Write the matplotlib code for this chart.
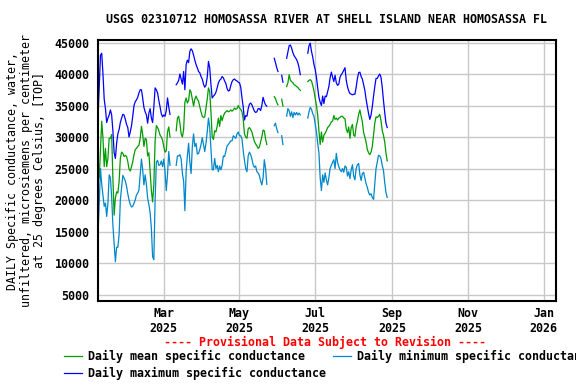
import numpy as np
import pandas as pd
import matplotlib
matplotlib.use("Agg")
import matplotlib.pyplot as plt
from matplotlib.lines import Line2D

##################### data (daily values, None = no record)

start_date = "2025-01-07"

daily_max = [
    33000, 38000, 43000, 43300, 40000, 36000, 34500, 32300, 33000, 33500,
    34300, 33500, 31000, 27500, 26600, 29000, 30500, 31200, 32300, 33000,
    33600, 33500, 32800, 32000, 31500, 30000, 30800, 31800, 33300, 35000,
    35600, 35900, 36300, 37000, 37500, 37500, 36200, 34700, 34000, 33500,
    32200, 33800, 34500, 33000, 32300, 34800, 37800, 37500, 37000, 35800,
    34800, 33700, 33200, 33500, 33300, 34200, 36200, 34800, 33600, None,
    None, None, None, 38300, 38600, 39000, 40000, 39200, 38400, 40400,
    37500, 41500, 42200, 41800, 43600, 44000, 43700, 43000, 42200, 41500,
    41000, 40400, 40200, 39600, 39200, 38400, 37900, 38200, 39500, 42000,
    41000, 38300, 36200, 36500, 36700, 37100, 37800, 38600, 39000, 39200,
    39600, 39400, 38900, 38500, 37700, 37300, 37400, 38200, 38800, 39100,
    39200, 39000, 38900, 38700, 38600, 37900, 36200, 34800, 32700, 33400,
    33300, 34500, 35200, 35400, 35100, 34600, 34100, 33900, 34000, 34500,
    34500, 34200, 35000, 36300, 35600, 35100, 34900, None, None, None,
    None, None, 42500, 41800, 41000, 40400, None, None, 39800, 38700,
    None, None, 42500, 43500, 44500, 44600, 44100, 43400, 42900, 42600,
    42300, 41800, 41000, 39900, None, None, None, None, None, 43300,
    44500, 44900, 43600, 42700, 41500, 40700, 39500, 37800, 36300, 35500,
    35000, 36500, 35300, 36500, 36400, 37200, 38000, 39400, 40300, 39500,
    38800, 39800, 38600, 38200, 38400, 39500, 39900, 40200, 40600, 41000,
    39000, 38000, 37300, 36900, 36800, 36700, 36800, 36800, 37900, 39300,
    40200, 40300, 39600, 39200, 38300, 37400, 36000, 34800, 33700, 32800,
    33500, 34800, 36500, 38000, 39300, 39300, 39700, 40000, 39500, 37900,
    35800, 33900, 32200, 31500,
]

daily_mean = [
    24000, 23500, 28200, 32500, 29800, 25300, 28200, 25300, 26600, 29800,
    29800, 30400, 23500, 17600, 20300, 21300, 21100, 22900, 26600, 27600,
    27400, 26900, 27100, 26900, 26100, 24900, 24600, 25300, 26100, 27200,
    28000, 28200, 28500, 28700, 29800, 31700, 30400, 28500, 29800, 29600,
    27000, 27500, 24500, 21500, 19700, 22500, 29300, 31800, 31500, 31000,
    30300, 30000, 29500, 28500, 27600, 27800, 30800, 31600, 30000, None,
    None, None, None, 31000, 33000, 33300, 32200, 30500, 30000, 31200,
    35500, 36200, 35400, 35800, 37500, 37100, 36000, 34900, 36000, 36500,
    36000, 35700, 34800, 34000, 33300, 33100, 33200, 34600, 36000, 37800,
    37200, 34000, 30000, 29600, 31000, 30800, 31700, 33000, 31700, 33400,
    32600, 33300, 33800, 34000, 34200, 34000, 34100, 34300, 34100, 34300,
    34600, 34400, 34500, 35000, 34600, 34400, 34000, 32800, 30500, 30000,
    29800, 31300, 31500, 31200, 30800, 30000, 29300, 28900, 28600, 28200,
    28400, 29200, 30000, 31100, 31000, 29700, 28800, None, None, None,
    None, None, 36400, 36100, 35500, 35100, None, None, 36000, 34900,
    None, None, 38000, 38600, 39900, 39000, 38800, 38600, 38300, 38200,
    38000, 37900, 37600, 37400, None, None, None, None, None, 38800,
    39000, 39100, 38900, 38200, 37300, 36200, 35000, 33500, 31000, 28800,
    30800, 29200, 30300, 30600, 31000, 31500, 31700, 32000, 32400, 32500,
    33400, 32800, 33000, 32700, 33000, 33100, 33300, 33300, 33000, 32900,
    31300, 30700, 31600, 29800, 31500, 32000, 30300, 30100, 31700, 32500,
    33600, 34300, 33300, 32400, 30700, 30000, 29200, 28000, 27500, 27200,
    27600, 28500, 30300, 32200, 33200, 33100, 33300, 33600, 32600, 31000,
    30300, 29200, 27500, 26200,
]

daily_min = [
    14500, 19500, 25000, 22500, 20800, 19000, 19500, 17400, 19500, 24000,
    23500, 20500, 16000, 13000, 10200, 12500, 12500, 14500, 20000, 22000,
    23900, 23500, 23000, 22200, 21000, 20000, 19300, 18900, 19000, 19500,
    20000, 20800, 21100, 21600, 24000, 26500, 24800, 22400, 24000, 22500,
    20300, 19300, 18000, 15500, 11000, 10500, 20000, 26000, 26300, 25500,
    25600, 26200, 25300, 26500, 24500, 21500, 24000, 27700, 25500, None,
    None, None, None, 25500, 27000, 27000, 27200, 26500, 24200, 23000,
    18300, 24500, 27000, 29000, 26000, 24200, 28500, 30500, 28500, 29000,
    27300, 27400, 28000, 28800, 29900, 28800, 27700, 29000, 30800, 33000,
    31500, 28000, 24800, 24800, 26600, 25000, 25500, 24500, 25400, 24800,
    25500, 27000, 26900, 27700, 28600, 28800, 29100, 29400, 29400, 30200,
    30000, 29800, 30500, 30800, 30200, 30200, 29700, 27800, 26300, 25000,
    24500, 27000, 27600, 27200, 26500, 25600, 25200, 25400, 24500, 24300,
    23900, 23000, 22400, 23500, 26400, 25000, 22500, None, None, None,
    None, None, 31800, 32200, 31300, 30700, None, None, 30200, 28800,
    None, None, 33300, 34500, 34200, 33300, 34000, 33100, 33900, 33500,
    33900, 33500, 33800, 33500, None, None, None, None, None, 33000,
    34000, 34700, 34400, 33700, 33300, 32000, 30800, 29000, 27500, 23500,
    21500, 24000, 22800, 24300, 23200, 22400, 23500, 25000, 25500, 26000,
    26400, 25000, 27400, 26000, 25300, 24800, 24500, 25000, 24400, 25400,
    25200, 23800, 24500, 23400, 24800, 25600, 23800, 23200, 25000, 25600,
    25800, 24000, 23100, 24200, 24400, 23500, 22600, 22000, 21200, 20800,
    21000, 20400, 20100, 22500, 25000, 26000, 27100, 27000, 26600, 25500,
    24700, 22800, 21200, 20400,
]

tick_dates  = ["2025-03-01", "2025-05-01", "2025-07-01", "2025-09-01", "2025-11-01", "2026-01-01"]
tick_labels = ["Mar\n2025", "May\n2025", "Jul\n2025", "Sep\n2025", "Nov\n2025", "Jan\n2026"]
y_ticks     = [5000, 10000, 15000, 20000, 25000, 30000, 35000, 40000, 45000]

title  = "USGS 02310712 HOMOSASSA RIVER AT SHELL ISLAND NEAR HOMOSASSA FL"
ylabel = ("DAILY Specific conductance, water,\n"
          "unfiltered, microsiemens per centimeter\n"
          "at 25 degrees Celsius, [TOP]")

##################### figure

plt.rcParams['font.family'] = ['DejaVu Sans Mono']
plt.rcParams['font.weight'] = 'bold'
plt.rcParams['font.size']   = 8.4

dates = pd.date_range(start_date, periods=len(daily_mean), freq="D")

fig = plt.figure(figsize=(5.76, 3.84), dpi=100)
ax  = fig.add_axes([98/576, 1 - 301/384, 458/576, 261/384])

c_mean = "#009c00"
c_min  = "#0088cc"
c_max  = "#0000ff"

ax.plot(dates, np.array(daily_mean, dtype=float), color=c_mean, lw=0.9)
ax.plot(dates, np.array(daily_min,  dtype=float), color=c_min,  lw=0.9)
ax.plot(dates, np.array(daily_max,  dtype=float), color=c_max,  lw=0.9)

ax.set_xlim(pd.Timestamp("2025-01-07"), pd.Timestamp("2026-01-11"))
ax.set_ylim(3970, 45400)
ax.set_xticks(pd.to_datetime(tick_dates))
ax.set_xticklabels(tick_labels)
ax.set_yticks(y_ticks)
ax.set_yticklabels([str(v) for v in y_ticks])
ax.tick_params(length=0)
ax.tick_params(axis='y', pad=6)
ax.tick_params(axis='x', pad=4)
ax.grid(True, color="#c8c8c8", lw=1.0)
ax.set_axisbelow(True)
for sp in ax.spines.values():
    sp.set_linewidth(1.5)

ax.set_ylabel(ylabel, linespacing=1.05)
ax.yaxis.set_label_coords(-0.113, 0.5)

fig.text(0.566, 0.950, title, ha='center', va='center')
fig.text(0.564, 0.107, "---- Provisional Data Subject to Revision ----",
         ha='center', va='center', color='red')

# legend runs off the right edge, as in the original
handles = [Line2D([], [], color=c_mean, lw=0.9),
           Line2D([], [], color=c_max,  lw=0.9),
           Line2D([], [], color=c_min,  lw=0.9)]
labels  = ["Daily mean specific conductance",
           "Daily maximum specific conductance",
           "Daily minimum specific conductance"]
fig.legend(handles, labels, ncol=2, loc='upper left',
           bbox_to_anchor=(64/576, 1 - 350/384), frameon=False,
           borderpad=0, borderaxespad=0, handlelength=1.55,
           handletextpad=0.5, columnspacing=0.6, labelspacing=0.35)

fig.savefig("out.png", dpi=100)
